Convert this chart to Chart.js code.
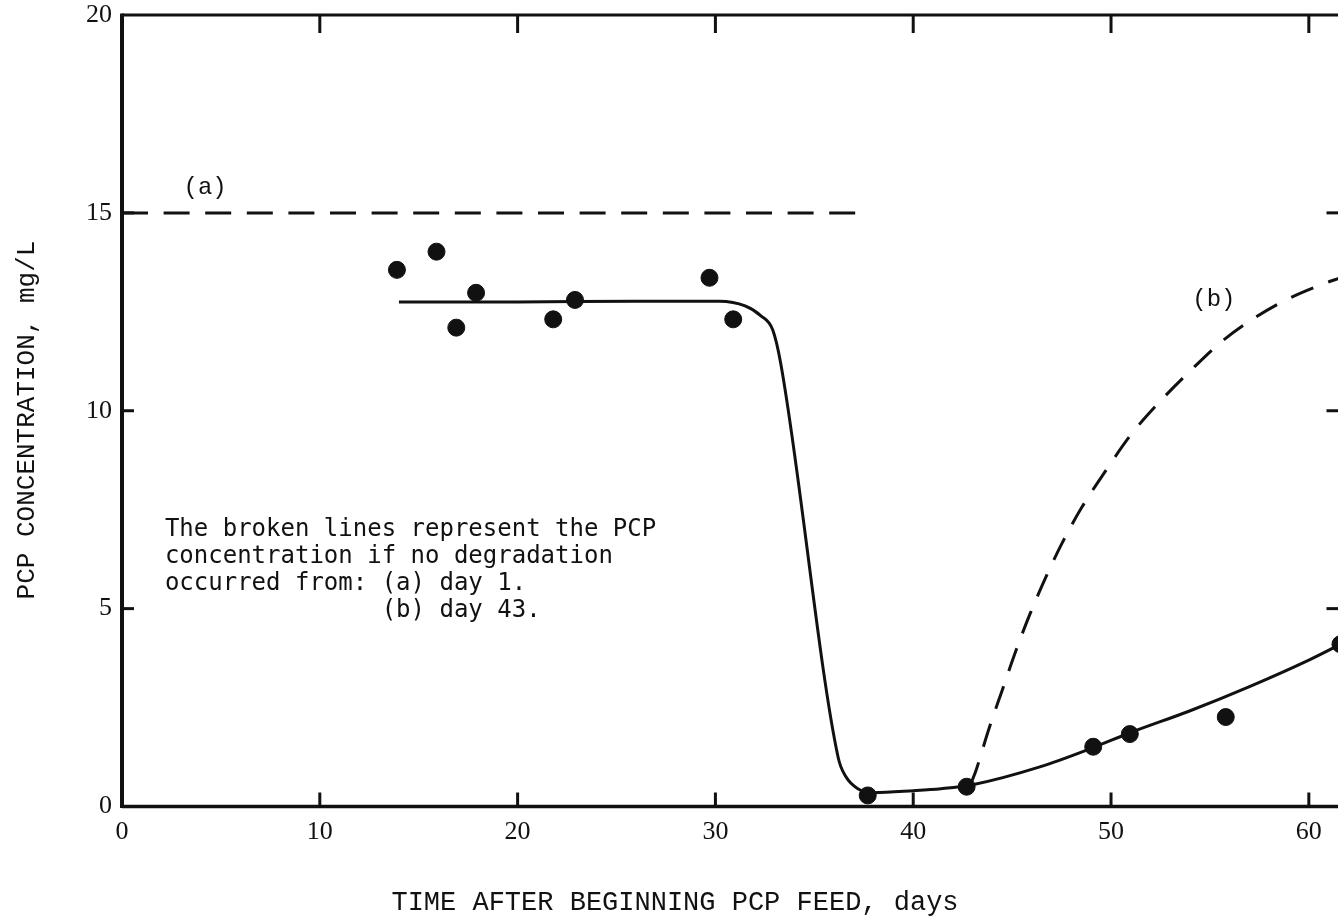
<!DOCTYPE html>
<html>
<head>
<meta charset="utf-8">
<script src="https://cdn.jsdelivr.net/npm/chart.js@4.4.1/dist/chart.umd.min.js"></script>
<style>
  html, body { margin: 0; padding: 0; background: #fff; overflow: hidden; }
  /* the plot runs off the right edge of the page, as in the scan */
  #wrap { width: 1348px; height: 919px; position: relative; }
</style>
</head>
<body>
<div id="wrap"><canvas id="pcpChart"></canvas></div>
<script>
// observed PCP concentration (dots)
const obsDays = [13.9, 15.9, 16.9, 17.9, 21.8, 22.9, 29.7, 30.9, 37.7, 42.7, 49.1, 50.95, 55.8, 61.6];
const obsConc = [13.56, 14.02, 12.1, 12.98, 12.31, 12.8, 13.36, 12.31, 0.28, 0.5, 1.51, 1.83, 2.26, 4.1];

// fitted solid curve
const fitDays = [14, 20, 26, 30.2, 31.5, 32.3, 32.9, 33.3, 36.2, 36.6, 37.2, 38, 40, 41.4, 43, 46.4, 49, 51, 54, 57, 60, 61.6];
const fitConc = [12.75, 12.75, 12.77, 12.77, 12.65, 12.4, 12.04, 11.2, 1.25, 0.75, 0.45, 0.35, 0.4, 0.45, 0.55, 1.0, 1.47, 1.87, 2.42, 3.03, 3.7, 4.1];

// broken line (a): no degradation from day 1
const aDays = [0, 37.1];
const aConc = [15, 15];

// broken line (b): no degradation from day 43
const bDays = [42.9, 43.2, 43.8, 44.5, 45.2, 45.9, 46.7, 47.5, 48.5, 49.7, 51.0, 52.6, 54.05, 55.6, 57.3, 59.0, 60.75, 61.6];
const bConc = [0.55, 0.95, 1.92, 2.94, 3.95, 4.86, 5.79, 6.63, 7.54, 8.46, 9.39, 10.3, 11.03, 11.75, 12.36, 12.84, 13.21, 13.36];

// axis ticks
const xTicks = [0, 10, 20, 30, 40, 50, 60];
const yTicks = [0, 5, 10, 15, 20];

const noteLines = [
  "The broken lines represent the PCP",
  "concentration if no degradation",
  "occurred from: (a) day 1.",
  "               (b) day 43."
];

const INK = "#111";

const toPoints = (xs, ys) => xs.map((v, i) => ({ x: v, y: ys[i] }));

function line(ctx, x1, y1, x2, y2) {
  ctx.beginPath();
  ctx.moveTo(x1, y1);
  ctx.lineTo(x2, y2);
  ctx.stroke();
}

// ==========================
// frame, inward ticks, titles and notes
// ==========================
const framePlugin = {
  id: "frame",
  afterDatasetsDraw(chart) {
    const { ctx, chartArea: a, scales: { x, y } } = chart;
    ctx.save();
    ctx.strokeStyle = INK;
    ctx.lineCap = "butt";

    ctx.lineWidth = 4;
    line(ctx, a.left, a.top - 1.5, a.left, a.bottom + 1.5);
    ctx.lineWidth = 3.5;
    line(ctx, a.left, a.bottom, a.right, a.bottom);
    ctx.lineWidth = 3;
    line(ctx, a.left, a.top, a.right, a.top);

    ctx.lineWidth = 3;
    xTicks.filter(v => v > 0).forEach(v => {
      const px = x.getPixelForValue(v);
      line(ctx, px, a.bottom, px, a.bottom - 14);
      line(ctx, px, a.top, px, a.top + 18);
    });
    yTicks.filter(v => v > 0 && v < 20).forEach(v => {
      const py = y.getPixelForValue(v);
      line(ctx, a.left, py, a.left + 12, py);
      line(ctx, a.right, py, a.right - 12, py);
    });

    ctx.fillStyle = INK;
    ctx.textBaseline = "middle";

    // axis titles
    ctx.font = "27px 'Liberation Mono'";
    ctx.textAlign = "center";
    ctx.fillText("TIME AFTER BEGINNING PCP FEED, days", 675, 903);
    ctx.save();
    ctx.translate(27, 420);
    ctx.rotate(-Math.PI / 2);
    ctx.font = "26px 'Liberation Mono'";
    ctx.fillText("PCP CONCENTRATION, mg/L", 0, 0);
    ctx.restore();

    // curve labels
    ctx.font = "24px 'Liberation Mono'";
    ctx.fillText("(a)", x.getPixelForValue(4.2), y.getPixelForValue(15.63));
    ctx.fillText("(b)", x.getPixelForValue(55.2), y.getPixelForValue(12.8));

    // explanatory note
    ctx.font = "24px 'DejaVu Sans Mono'";
    ctx.textAlign = "left";
    const nx = x.getPixelForValue(2.17);
    const ny = y.getPixelForValue(7.0);
    noteLines.forEach((t, i) => ctx.fillText(t, nx, ny + i * 27));

    ctx.restore();
  }
};

const ctx = document.getElementById("pcpChart").getContext("2d");

new Chart(ctx, {
  type: "scatter",
  data: {
    datasets: [
      {
        label: "observed",
        data: toPoints(obsDays, obsConc),
        backgroundColor: INK,
        borderColor: INK,
        pointRadius: 8.5,
        pointHoverRadius: 8.5
      },
      {
        label: "fit",
        data: toPoints(fitDays, fitConc),
        showLine: true,
        borderColor: INK,
        borderWidth: 3,
        pointRadius: 0,
        cubicInterpolationMode: "monotone",
        fill: false
      },
      {
        label: "(a)",
        data: toPoints(aDays, aConc),
        showLine: true,
        borderColor: INK,
        borderWidth: 3,
        borderDash: [26, 15.6],
        pointRadius: 0,
        fill: false
      },
      {
        label: "(b)",
        data: toPoints(bDays, bConc),
        showLine: true,
        borderColor: INK,
        borderWidth: 3,
        borderDash: [24, 16],
        pointRadius: 0,
        cubicInterpolationMode: "monotone",
        fill: false
      }
    ]
  },
  options: {
    responsive: true,
    maintainAspectRatio: false,
    animation: false,
    layout: { padding: { top: 15, right: 0, left: 0, bottom: 0 } },
    plugins: {
      legend: { display: false },
      tooltip: { enabled: false }
    },
    scales: {
      x: {
        type: "linear",
        min: 0,
        max: 61.5,
        afterBuildTicks: (scale) => { scale.ticks = xTicks.map(v => ({ value: v })); },
        afterFit: (scale) => {
          scale.height = 112.5;
          scale.paddingLeft = 0;
          scale.paddingRight = 0;
        },
        grid: { display: false, drawTicks: false },
        border: { display: false },
        ticks: {
          color: INK,
          padding: 10,
          font: { family: "'Liberation Serif'", size: 26 },
          maxRotation: 0
        }
      },
      y: {
        type: "linear",
        min: 0,
        max: 20,
        afterBuildTicks: (scale) => { scale.ticks = yTicks.map(v => ({ value: v })); },
        afterFit: (scale) => {
          scale.width = 122;
          scale.paddingTop = 0;
          scale.paddingBottom = 0;
        },
        grid: { display: false, drawTicks: false },
        border: { display: false },
        ticks: {
          color: INK,
          padding: 10,
          font: { family: "'Liberation Serif'", size: 26 }
        }
      }
    }
  },
  plugins: [framePlugin]
});
</script>
</body>
</html>
